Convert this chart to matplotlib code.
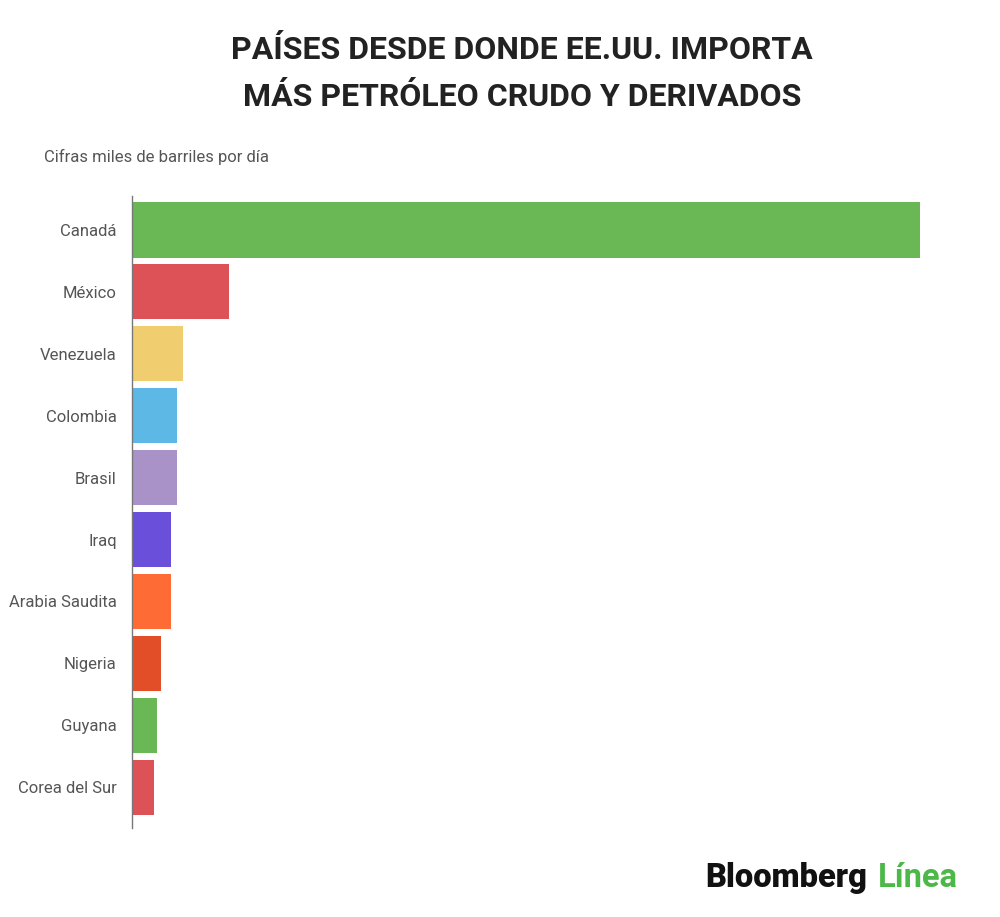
import matplotlib
matplotlib.use("Agg")
import matplotlib.pyplot as plt

plt.rcParams['font.family'] = ['Roboto', 'DejaVu Sans']

paises = ["Canadá", "México", "Venezuela", "Colombia", "Brasil", "Iraq",
          "Arabia Saudita", "Nigeria", "Guyana", "Corea del Sur"]
# miles de barriles por día (aproximados)
valores = [3940, 485, 255, 225, 225, 195, 195, 145, 125, 110]
colores = ["#6AB755", "#DC5257", "#F0CD6E", "#5DB8E5", "#A992C8", "#6A4FDB",
           "#FF6B35", "#E24E27", "#6AB755", "#DC5257"]

fig = plt.figure(figsize=(10, 9.17), dpi=100)
ax = fig.add_axes([0.132, 1 - 828 / 917, 0.788, 632 / 917])

y = list(range(len(paises)))
ax.barh(y, valores, height=0.89, color=colores)
ax.set_ylim(9.66, -0.55)
ax.set_xlim(0, max(valores))

ax.set_yticks(y)
ax.set_yticklabels(paises, fontsize=12, color="#555555")
ax.tick_params(axis="y", length=0, pad=11)
ax.set_xticks([])
for s in ["top", "right", "bottom"]:
    ax.spines[s].set_visible(False)
ax.spines["left"].set_color("#777777")
ax.spines["left"].set_linewidth(1)

fig.text(0.522, 0.945, "PAÍSES DESDE DONDE EE.UU. IMPORTA", ha="center", va="center",
         fontsize=23, fontweight="bold", color="#222222")
fig.text(0.522, 0.894, "MÁS PETRÓLEO CRUDO Y DERIVADOS", ha="center", va="center",
         fontsize=23, fontweight="bold", color="#222222")
fig.text(0.044, 0.829, "Cifras miles de barriles por día", ha="left", va="center",
         fontsize=12, color="#555555")

t = fig.text(0.705, 0.043, "Bloomberg", ha="left", va="center",
             fontsize=23.5, fontweight=900, color="#111111")
fig.canvas.draw()
bb = t.get_window_extent()
x1 = bb.x1 / fig.bbox.width
fig.text(x1 + 0.011, 0.043, "Línea", ha="left", va="center",
         fontsize=23.5, fontweight="bold", color="#4CB848")

fig.savefig("out.png", dpi=100, facecolor="white")
